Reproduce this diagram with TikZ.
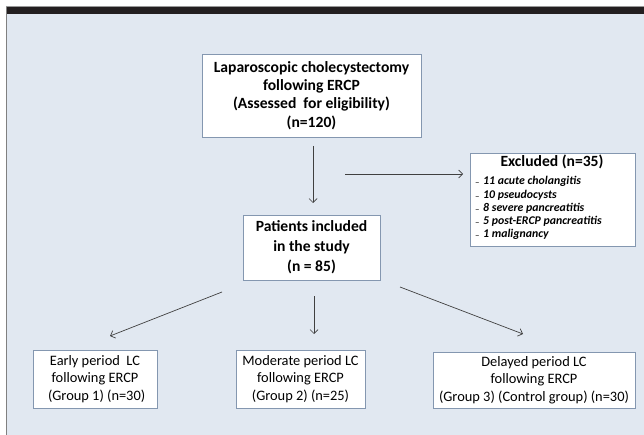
\documentclass[tikz,border=0pt]{standalone}
\usepackage{fontspec}
\setmainfont{Carlito}
\usetikzlibrary{arrows.meta}
\definecolor{bg}{HTML}{E1E8F1}
\definecolor{bordc}{HTML}{8497B0}
\definecolor{linec}{HTML}{404040}
\definecolor{barc}{HTML}{231F20}
\begin{document}
\begin{tikzpicture}[x=1pt,y=-1pt,
  box/.style={draw=bordc, fill=white, line width=0.8pt, inner sep=0pt, align=center},
  bigtxt/.style={font=\fontsize{15.6}{18.3}\selectfont\bfseries},
  midtxt/.style={font=\fontsize{15.6}{20}\selectfont\bfseries},
  smalltxt/.style={font=\fontsize{14.4}{17.6}\selectfont},
  itemtxt/.style={font=\fontsize{11.8}{13}\selectfont\bfseries\itshape, anchor=west, inner sep=0pt},
  dashtxt/.style={font=\fontsize{9}{10}\selectfont, anchor=west, inner sep=0pt},
  arr/.style={draw=linec, line width=0.7pt, -{Straight Barb[length=4pt,width=8pt]}}]
\useasboundingbox (0,0) rectangle (644,435);
\fill[white] (0,0) rectangle (644,435);
\fill[bg] (6,14) rectangle (644,435);
\fill[barc] (6,6) rectangle (644,14);
\draw[gray, line width=0.8pt] (6.4,6) -- (6.4,435);
\draw[gray!80, line width=0.6pt] (6,6.3) -- (644,6.3);

% boxes
\node[box, bigtxt, minimum width=219pt, minimum height=83pt] (top) at (311.5,95.5)
  {Laparoscopic cholecystectomy\\following ERCP\\(Assessed\ \ for eligibility)\\(n=120)};
\node[box, midtxt, minimum width=137pt, minimum height=65pt] (mid) at (311.5,247.5)
  {Patients included\\in the study\\(n = 85)};
\node[box, minimum width=165pt, minimum height=93pt] (excl) at (552.5,199.5) {};
\node[box, smalltxt, minimum width=124pt, minimum height=58pt] (b1) at (95,379)
  {Early period\ \ LC\\following ERCP\\\ (Group 1) (n=30)};
\node[box, smalltxt, minimum width=129pt, minimum height=58pt] (b2) at (300.5,379)
  {Moderate period LC\\following ERCP\\(Group 2) (n=25)};
\node[box, smalltxt, minimum width=202pt, minimum height=56pt] (b3) at (534,380)
  {Delayed period LC\\following ERCP\\(Group 3) (Control group) (n=30)};

% excluded contents
\node[font=\fontsize{15.6}{18}\selectfont\bfseries, inner sep=0pt] (exT) at (552,162) {Excluded (n=35)};
\foreach \yy/\tt [count=\i] in {181/11 acute cholangitis, 195/10 pseudocysts, 208/8 severe pancreatitis, 221/5 post-ERCP pancreatitis, 234/1 malignancy}{
  \node[dashtxt] (exD\i) at (475,\yy+3) {--};
  \node[itemtxt] (exI\i) at (483,\yy) {\tt};
}

% connector end points
\coordinate (a1s) at (313,146); \coordinate (a1e) at (313,203);
\coordinate (a2s) at (345,174); \coordinate (a2e) at (463,174);
\coordinate (a3s) at (222,292); \coordinate (a3e) at (110,336);
\coordinate (a4s) at (314,296); \coordinate (a4e) at (314,334);
\coordinate (a5s) at (400,287); \coordinate (a5e) at (523,334);

\draw[arr] (a1s) -- (a1e);
\draw[arr] (a2s) -- (a2e);
\draw[arr] (a3s) -- (a3e);
\draw[arr] (a4s) -- (a4e);
\draw[arr] (a5s) -- (a5e);
\end{tikzpicture}
\end{document}
